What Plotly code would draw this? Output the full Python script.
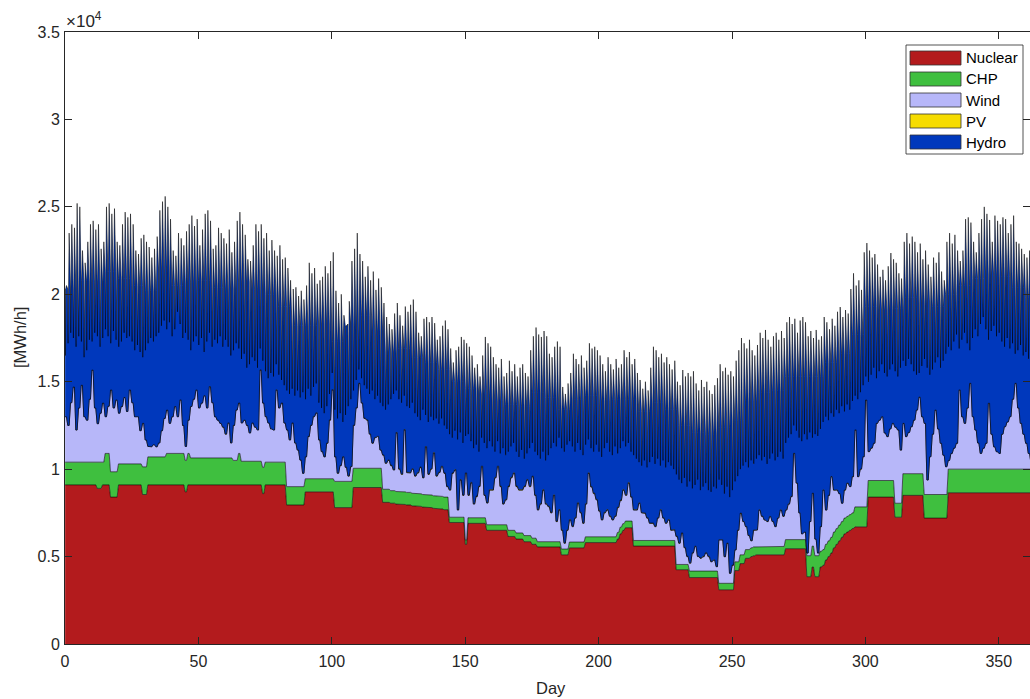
import plotly.graph_objects as go

# ---------------- data (MWh/h) ----------------
# Nuclear output as (number of days, level) runs
NUCLEAR_RUNS = [
    (12, 9100), (2, 8900), (3, 9100), (3, 8400), (9, 9100), (2, 8550), (14, 9100),
    (1, 8700), (28, 9100), (1, 8600), (8, 9100), (7, 7950), (11, 8700), (7, 7800),
    (11, 8950), (3, 8100),
    (2, 8050), (2, 8000), (2, 7980), (2, 7950), (2, 7900), (2, 7870), (2, 7830),
    (2, 7800), (2, 7760), (2, 7720), (2, 7680),
    (6, 6950), (1, 5700), (7, 6900), (8, 6500), (3, 6150), (3, 6000), (3, 5850),
    (2, 5700), (9, 5550), (3, 5100), (6, 5500), (12, 5800), (1, 6000), (1, 6300),
    (1, 6500), (3, 6650), (16, 5600), (5, 4250), (11, 3800), (6, 3100),
    (2, 4200), (2, 4600), (2, 4900), (1, 5000), (1, 5050), (11, 5100), (8, 5450),
    (2, 3850), (1, 4400), (2, 3850),
    (1, 4400), (1, 4500), (1, 4800), (1, 5000), (1, 5200), (1, 5500), (1, 5700),
    (1, 5900), (1, 6100), (1, 6300), (1, 6400), (1, 6500), (1, 6600),
    (5, 6700), (10, 8400), (3, 7250), (8, 8500), (9, 7200), (34, 8650),
]

# CHP output as (number of days, level) runs
CHP_RUNS = [
    (12, 1300), (2, 1500), (1, 1300), (2, 1800), (3, 1450), (9, 1200), (2, 1580),
    (7, 1600), (9, 1800), (16, 1540), (2, 1400), (1, 1800), (8, 1350), (1, 1500),
    (8, 1300), (7, 1050), (11, 750), (7, 1500), (11, 1100), (3, 750), (22, 720),
    (6, 300), (1, 250), (15, 320), (11, 350), (9, 300), (21, 330), (6, 380),
    (16, 320), (5, 300), (17, 370), (8, 500), (11, 480), (8, 520), (5, 1200),
    (13, 900), (5, 1140), (10, 950), (3, 800), (8, 1240), (9, 1350), (34, 1350),
]

# PV output, monthly level
MONTH_DAYS = [31, 28, 31, 30, 31, 30, 31, 31, 30, 31, 30, 31]
PV_MONTHLY = [0, 0, 5, 15, 25, 30, 30, 25, 15, 5, 0, 0]

# Upper edge of the wind band (nuclear + CHP + wind), one value per day
WIND_TOP = [
    13000, 12500, 13800, 14700, 12240, 13500, 14800, 13000, 12800, 14000,
    15670, 13500, 12600, 13200, 13780, 13000, 13600, 14530, 13500, 13960,
    13200, 13580, 14100, 13300, 14530, 13800, 13000, 13000, 12200, 12620,
    11670, 11300, 11280, 11400, 11280, 11500, 12200, 12900, 13380, 12620,
    13000, 13580, 13000, 13960, 12500, 11300, 12800, 13580, 14000, 14530,
    13500, 13780, 14200, 13500, 14720, 13800, 13000, 12800, 12620, 12400,
    12000, 12640, 11500, 12500, 13380, 13780, 12640, 12800, 12500, 12070,
    12640, 12400, 12240, 15670, 13780, 13000, 12640, 12300, 12240, 14530,
    13500, 13780, 12640, 12240, 11670, 12640, 11500, 11090, 10520, 9760,
    10700, 11860, 12500, 13000, 13210, 11670, 11000, 10700, 11480, 12800,
    14530, 10700, 9760, 10200, 10700, 10100, 9600, 10140, 12500, 13500,
    14900, 13780, 12900, 12800, 12000, 11480, 11800, 11860, 11090, 10800,
    10330, 10500, 10200, 9950, 12070, 10000, 9700, 12240, 9800, 9780,
    10000, 9600, 9780, 10100, 9500, 11270, 9700, 10000, 10920, 9600,
    9800, 10140, 9760, 9000, 8800, 9760, 9950, 7660, 9380, 8500,
    9760, 8500, 9210, 8000, 8430, 9000, 10140, 8500, 8060, 8800,
    8800, 9500, 10140, 9000, 8000, 8240, 9000, 9500, 9760, 9000,
    8800, 8800, 9000, 9380, 9000, 9570, 8500, 7660, 8000, 8800,
    8000, 7850, 7500, 8500, 7000, 7660, 6500, 5760, 6500, 7090,
    6710, 7200, 8050, 7500, 6900, 8000, 9760, 8980, 8600, 8240,
    7600, 7090, 7500, 7660, 7300, 7090, 7300, 7800, 8200, 8800,
    8500, 9200, 8400, 7660, 7660, 8050, 7500, 7470, 7200, 6900,
    6900, 6710, 7200, 7660, 7200, 6900, 7090, 6500, 6520, 6140,
    5760, 6330, 5500, 5000, 4620, 5200, 5570, 5000, 4900, 4990,
    5200, 4990, 4700, 4800, 4420, 5950, 5950, 4990, 5760, 4040,
    4500, 5380, 6500, 7470, 7000, 6710, 6200, 5900, 6500, 6520,
    7660, 7300, 7090, 7000, 7280, 7000, 6710, 7200, 7660, 7300,
    7660, 8000, 8430, 10900, 9200, 7500, 6300, 6400, 5200, 7000,
    8620, 6000, 5200, 6710, 8810, 7660, 8500, 9570, 8800, 8810,
    8600, 8050, 8800, 9200, 9000, 9570, 12240, 9570, 10000, 10710,
    13950, 11000, 11200, 11480, 12620, 12800, 13000, 12070, 11860, 12300,
    12620, 12400, 12240, 11090, 12620, 11860, 12100, 12430, 12800, 13380,
    14120, 13000, 12620, 9380, 10710, 12000, 13380, 12300, 11480, 10800,
    10140, 10500, 10900, 11200, 11480, 14530, 13000, 12620, 13500, 14910,
    13000, 12240, 11500, 10900, 11200, 11480, 13770, 12000, 11280, 11000,
    10900, 12000, 12430, 12700, 13000, 14000, 14910, 13500, 12620, 12000,
    11480, 10900, 10330, 10500, 10800,
]

# Total load (top of the stack): daily maximum
LOAD_PEAK = [
    20500, 23500, 24000, 23800, 25200, 25000, 22500, 21800, 23000, 24000,
    24200, 23700, 24000, 22600, 23000, 25000, 25200, 24600, 24900, 23000,
    22800, 24000, 24700, 24400, 24600, 24000, 22500, 22300, 23200, 23400,
    23000, 22700, 22100, 22600, 23300, 24800, 25300, 25600, 25000, 24300,
    22500, 22200, 23500, 23200, 22800, 23600, 24000, 24500, 23900, 24300,
    22800, 23700, 24600, 24800, 24200, 22600, 22800, 23800, 23500, 23200,
    22900, 23700, 22400, 23000, 24200, 24700, 24000, 23400, 22000, 21900,
    22800, 24000, 23600, 24000, 23200, 23500, 22500, 23100, 22500, 22200,
    22800, 22000, 22100, 21500, 20800, 20300, 20400, 19900, 20200, 19700,
    20500, 21800, 21200, 21500, 20600, 20800, 21000, 21600, 21200, 21900,
    22400, 20200, 19500, 20000, 18800, 18200, 19600, 21900, 22600, 23500,
    22300, 21900, 21000, 21600, 20800, 21300, 20250, 20900, 20400, 19500,
    18700, 18300, 18000, 18900, 19500, 18800, 18200, 19300, 19000, 19400,
    19700, 19000, 17800, 17600, 18600, 18700, 18400, 18700, 18350, 17400,
    17600, 18200, 18500, 18000, 16900, 16100, 16800, 17000, 17560, 17400,
    17200, 17000, 16500, 15800, 16000, 15300, 16500, 17560, 17200, 17000,
    16400, 16000, 15800, 16300, 15300, 15500, 16200, 15600, 16000, 15300,
    15800, 16000, 15500, 15300, 16800, 17600, 18100, 17700, 17560, 17900,
    17600, 16600, 16400, 17000, 17300, 17000, 14700, 14300, 14900, 15500,
    16600, 16300, 16000, 16500, 15800, 16200, 17200, 16900, 17000, 16800,
    16500, 16000, 15600, 16400, 16000, 15700, 16300, 15800, 16000, 16800,
    16400, 16700, 16000, 16300, 15500, 15100, 14600, 15000, 14500, 15800,
    17000, 16800, 16400, 16600, 16100, 16400, 16000, 15700, 16200, 15000,
    14800, 15670, 15300, 15500, 15300, 15600, 14900, 14500, 15100, 14700,
    15000, 14500, 14300, 14800, 15200, 16000, 15600, 15800, 15400, 15600,
    15300, 16200, 16800, 17500, 17200, 16900, 17400, 16800, 16500, 17100,
    17800, 17500, 17960, 17400, 17000, 17600, 17800, 17400, 17900, 17500,
    18400, 18700, 18300, 18600, 17800, 18500, 18700, 18400, 17600, 17900,
    17500, 17960, 17400, 17600, 18700, 18400, 18000, 18600, 18200, 19000,
    19270, 18700, 19100, 18900, 20300, 21200, 20500, 20800, 20250, 22400,
    22930, 22500, 22100, 22300, 21700, 21000, 21400, 20800, 21600, 22360,
    22000, 21800, 21200, 20900, 23000, 23500, 22900, 23300, 23000, 22400,
    22900, 22000, 22500, 21700, 21000, 22100, 21800, 22400, 21300, 20800,
    23000, 23500, 22900, 23400, 22500, 21900, 22500, 24300, 24400, 24100,
    23000, 22400, 23500, 24300, 25000, 24600, 24250, 23000, 24500, 24200,
    24000, 24400, 24300, 23500, 24000, 24500, 23000, 22900, 22600, 22300,
    22100, 22500, 21500, 21000, 20500,
]

# Total load: night minimum per day
LOAD_TROUGH = [
    16500, 17200, 17800, 17500, 17000, 17600, 17300, 16400, 16800, 17400,
    17300, 17800, 17600, 17000, 17500, 18000, 17600, 17200, 17900, 17400,
    17000, 17300, 17800, 17500, 17600, 17300, 16800, 17100, 16700, 16400,
    16800, 17200, 17500, 17300, 17600, 17800, 18200, 18500, 18000, 18400,
    17600, 18000, 19000, 18300, 17500, 17800, 17400, 16800, 17300, 17600,
    17100, 17500, 16700, 17300, 17800, 17000, 17400, 17200, 17600, 17000,
    17400, 17000, 16500, 16800, 17200, 16900, 16300, 16600, 15800, 16000,
    16400, 16200, 15800, 16900, 16200, 15600, 15200, 15500, 15300, 16000,
    15400, 15100, 14800, 14500, 14300, 14600, 14200, 14500, 14100, 14400,
    14000, 14600, 14200, 14700, 14900, 13800, 13500, 13200, 13600, 14300,
    15500, 13400, 12900, 13200, 12700, 13100, 13600, 14000, 14500, 15100,
    15700, 15200, 14800, 14600, 14300, 14500, 14000, 14200, 13800, 13600,
    13400, 13700, 14000, 14300, 14500, 14000, 13800, 14200, 13600, 13500,
    13800, 13200, 13000, 12800, 13400, 13100, 12700, 13000, 12800, 12900,
    12600, 12900, 12500, 12300, 12000, 11800, 12200, 11700, 12100, 11500,
    11900, 12000, 11600, 11200, 11400, 11000, 11800, 11500, 11200, 11600,
    11300, 11000, 11600, 10900, 11200, 10800, 11000, 11300, 11500, 11000,
    10700, 11100, 10600, 10900, 11200, 11500, 11000, 10800, 10600, 11000,
    10500, 10800, 11200, 11500, 11300, 11800, 11200, 11000, 11400, 11600,
    11300, 11000, 11500, 11100, 10800, 11400, 11700, 11200, 11000, 11400,
    11000, 10700, 11200, 11500, 11000, 10800, 11300, 10900, 11200, 11600,
    11300, 11500, 11000, 10800, 10600, 10400, 10200, 10500, 10100, 10400,
    10700, 10300, 10600, 10200, 10500, 10100, 10400, 10200, 10000, 9700,
    9400, 9200, 9500, 9000, 9300, 8900, 9100, 9400, 8800, 9000,
    9200, 8800, 8700, 9000, 8900, 9400, 9100, 8600, 9000, 8400,
    8800, 9300, 9600, 10000, 10200, 10400, 10100, 10500, 10300, 10600,
    10800, 10500, 10700, 10300, 10600, 10900, 10500, 10700, 11000, 10600,
    11500, 11800, 12000, 12500, 12200, 11800, 11600, 12000, 11700, 12100,
    11800, 12000, 11900, 12300, 12700, 13000, 12800, 13200, 13000, 13400,
    13200, 13600, 13300, 13700, 13400, 13900, 14200, 14000, 14400, 14800,
    15300, 15000, 15400, 15800, 15200, 15600, 16000, 15500, 15300, 15700,
    16000, 15600, 15300, 15800, 16200, 15900, 16300, 16000, 15600, 15400,
    15500, 15900, 16300, 15800, 15400, 15700, 16100, 16400, 15800, 16200,
    16600, 17000, 16800, 17300, 17700, 16900, 17400, 17800, 17200, 16800,
    17500, 18000, 17600, 18300, 18700, 18000, 17400, 17900, 18200, 17600,
    17800, 17300, 17000, 17500, 16900, 17200, 16600, 16800, 17100, 16500,
    16700, 16300, 16500, 16000, 15800,
]

# Load level between the daily spikes (bottom of the white notches), per 5-day block
LOAD_PLATEAU_5D = [
    20300, 20800, 20700, 21300, 20900, 20500, 20200, 21500, 20500, 20700,
    20800, 20400, 20300, 20700, 20300, 20000, 19300, 18200, 18200, 18300,
    17300, 18300, 18800, 17900, 16700, 16900, 16400, 16100, 15700, 15000,
    14600, 14300, 13900, 13700, 13600, 14400, 14100, 13400, 14000, 14200,
    13900, 14000, 14000, 13300, 13800, 13400, 12500, 12100, 12000, 12400,
    12800, 13900, 14400, 14500, 15300, 15300, 15300, 16100, 16600, 17700,
    19300, 19100, 19200, 19800, 19500, 19300, 20000, 20500, 20900, 21100,
    21000, 20400, 19800,
]

SERIES = ["Nuclear", "CHP", "Wind", "PV", "Hydro"]
COLORS = ["#B31B1D", "#3FBF3F", "#B7B7F9", "#F6DC00", "#0038BC"]
X_TICKS = [0, 50, 100, 150, 200, 250, 300, 350]
Y_TICKS = [0, 5000, 10000, 15000, 20000, 25000, 30000, 35000]
Y_TICK_TEXT = ["0", "0.5", "1", "1.5", "2", "2.5", "3", "3.5"]


def expand(runs):
    out = []
    for n, v in runs:
        out.extend([v] * n)
    return out


nuclear_d = expand(NUCLEAR_RUNS)
chp_d = expand(CHP_RUNS)
pv_d = expand(zip(MONTH_DAYS, PV_MONTHLY))
plateau_d = expand((5, v) for v in LOAD_PLATEAU_5D)
n_days = min(len(nuclear_d), len(chp_d), len(pv_d), len(WIND_TOP),
             len(LOAD_PEAK), len(LOAD_TROUGH), len(plateau_d))

x, nuc, chp, wind, pv, hydro = [], [], [], [], [], []
for d in range(n_days):
    base = nuclear_d[d] + chp_d[d]
    w = max(WIND_TOP[d] - base, 0)
    lo, hi = LOAD_TROUGH[d], LOAD_PEAK[d]
    mid = min(max(plateau_d[d], lo), hi)
    # night dip, back to the between-spike level, daytime spike
    for off, load in ((0.05, mid), (0.15, lo), (0.25, mid), (0.55, hi)):
        x.append(d + off)
        nuc.append(nuclear_d[d])
        chp.append(chp_d[d])
        wind.append(w)
        pv.append(pv_d[d])
        hydro.append(max(load - base - w - pv_d[d], 0))

values = [nuc, chp, wind, pv, hydro]
widths = [0.6, 0.6, 0.8, 0.5, 0.55]

fig = go.Figure()
for name, col, vals, lw in zip(SERIES, COLORS, values, widths):
    fig.add_trace(go.Scatter(
        x=x, y=vals, name=name, stackgroup="one", mode="lines",
        line=dict(color="black", width=lw), fillcolor=col,
        showlegend=False, hoverinfo="skip",
    ))

FONT = "Liberation Sans, Arial, Helvetica, sans-serif"
AX = "#262626"

W, H = 1030, 699
L, R, T, B = 65, 0, 32, 55
PW, PH = W - L - R, H - T - B


def px2paper(px, py):
    return (px - L) / PW, (H - B - py) / PH


shapes = []
annotations = []
# legend box
x0, y0 = px2paper(906, 154)
x1, y1 = px2paper(1023, 45)
shapes.append(dict(type="rect", xref="paper", yref="paper", x0=x0, y0=y0, x1=x1, y1=y1,
                   line=dict(color="#262626", width=0.8), fillcolor="white", layer="above"))
for i, (name, col) in enumerate(zip(SERIES, COLORS)):
    cy = 58 + i * 21
    sx0, sy0 = px2paper(910, cy + 7)
    sx1, sy1 = px2paper(961, cy - 7)
    shapes.append(dict(type="rect", xref="paper", yref="paper", x0=sx0, y0=sy0, x1=sx1, y1=sy1,
                       line=dict(color="#333333", width=0.8), fillcolor=col, layer="above"))
    tx, ty = px2paper(964, cy)
    annotations.append(dict(text=name, xref="paper", yref="paper", x=tx, y=ty,
                            xanchor="left", yanchor="middle", showarrow=False,
                            font=dict(family=FONT, size=15, color="black")))

# exponent label
ex, ey = px2paper(64, 33)
annotations.append(dict(text="×10<sup>4</sup>", xref="paper", yref="paper", x=ex, y=ey,
                        xanchor="left", yanchor="bottom", showarrow=False,
                        font=dict(family=FONT, size=17, color=AX)))

# axis titles
dx, dy = px2paper(551, 688)
annotations.append(dict(text="Day", xref="paper", yref="paper", x=dx, y=dy,
                        xanchor="center", yanchor="middle", showarrow=False,
                        font=dict(family=FONT, size=16.5, color=AX)))
mx, my = px2paper(20, 338)
annotations.append(dict(text="[MWh/h]", xref="paper", yref="paper", x=mx, y=my,
                        xanchor="center", yanchor="middle", showarrow=False, textangle=-90,
                        font=dict(family=FONT, size=16.5, color=AX)))

fig.update_layout(
    width=W, height=H,
    margin=dict(l=L, r=R, t=T, b=B, pad=0),
    paper_bgcolor="white", plot_bgcolor="white",
    font=dict(family=FONT, size=16, color=AX),
    shapes=shapes, annotations=annotations,
    xaxis=dict(
        range=[0, (W - L) / 2.668], tickvals=X_TICKS, ticktext=[str(v) for v in X_TICKS],
        ticks="inside", ticklen=7, tickcolor=AX, tickwidth=0.8,
        showline=True, linecolor=AX, linewidth=1, mirror="ticks",
        showgrid=False, zeroline=False, ticklabelstandoff=3,
        tickfont=dict(family=FONT, size=16, color=AX),
    ),
    yaxis=dict(
        range=[0, 35000], tickvals=Y_TICKS, ticktext=Y_TICK_TEXT,
        ticks="inside", ticklen=7, tickcolor=AX, tickwidth=0.8,
        showline=True, linecolor=AX, linewidth=1, mirror="ticks",
        showgrid=False, zeroline=False, ticklabelstandoff=1,
        tickfont=dict(family=FONT, size=16, color=AX),
    ),
)

fig.write_html("out.html")
